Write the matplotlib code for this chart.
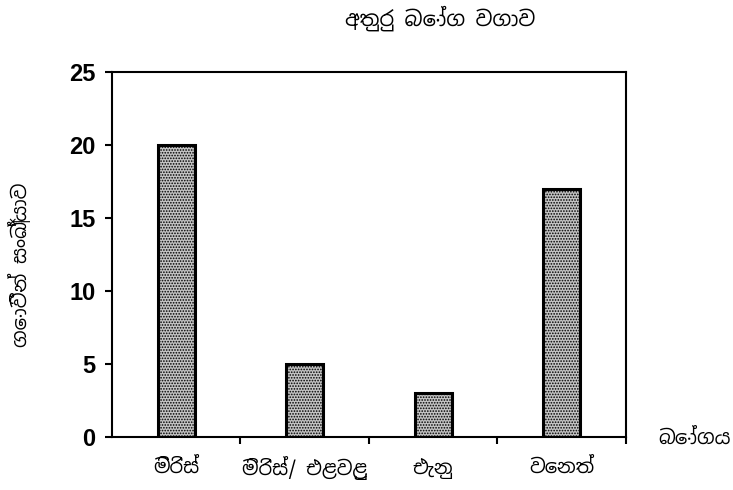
import matplotlib
matplotlib.use("Agg")
import matplotlib.pyplot as plt
from matplotlib import font_manager

categories = ["මිරිස්", "මිරිස්/ එළවළු", "එැනු", "වෙනත්"]
values = [20, 5, 3, 17]
yticks = [0, 5, 10, 15, 20, 25]
title = "අතුරු බෝග වගාව"
ylabel = "ගොවීන් සංඛ්‍යාව"
xlabel = "බෝගය"

# try to find any installed font with Sinhala glyphs
sin_fams = []
for f in font_manager.fontManager.ttflist:
    if "sinhala" in f.name.lower() or "iskoola" in f.name.lower():
        sin_fams.append(f.name)
fams = list(dict.fromkeys(sin_fams)) + ["Liberation Sans", "DejaVu Sans"]
plt.rcParams["font.family"] = fams
plt.rcParams["hatch.color"] = "#6e6e6e"
plt.rcParams["hatch.linewidth"] = 0.8

fig = plt.figure(figsize=(7.33, 4.9), dpi=100)
ax = fig.add_axes([0.1528, 0.108, 0.701, 0.745])

x = list(range(len(categories)))
ax.bar(x, values, width=0.29, color="#c4c4c4", edgecolor="black", linewidth=2.2,
       hatch="......", zorder=2)

ax.set_xlim(-0.5, 3.5)
ax.set_ylim(0, 25)
ax.set_yticks(yticks)
ax.set_yticklabels([str(v) for v in yticks], fontsize=17, fontweight="bold",
                   family=["Liberation Sans", "DejaVu Sans"])
ax.set_xticks([0.5, 1.5, 2.5, 3.5])
ax.set_xticklabels([])
ax.tick_params(axis="x", direction="out", length=5, width=1.5)
ax.tick_params(axis="y", direction="out", length=5, width=1.5, pad=7)
for s in ax.spines.values():
    s.set_linewidth(1.5)

for xi, lab in zip(x, categories):
    ax.text(xi, -0.085, lab, transform=ax.get_xaxis_transform(), ha="center", va="center",
            fontsize=14, fontweight="bold")

fig.text(0.60, 0.962, title, ha="center", va="center", fontsize=15, fontweight="bold")
fig.text(0.028, 0.46, ylabel, ha="center", va="center", rotation=90, fontsize=14, fontweight="bold")
fig.text(0.947, 0.105, xlabel, ha="center", va="center", fontsize=14, fontweight="bold")

fig.savefig("out.png", dpi=100)
